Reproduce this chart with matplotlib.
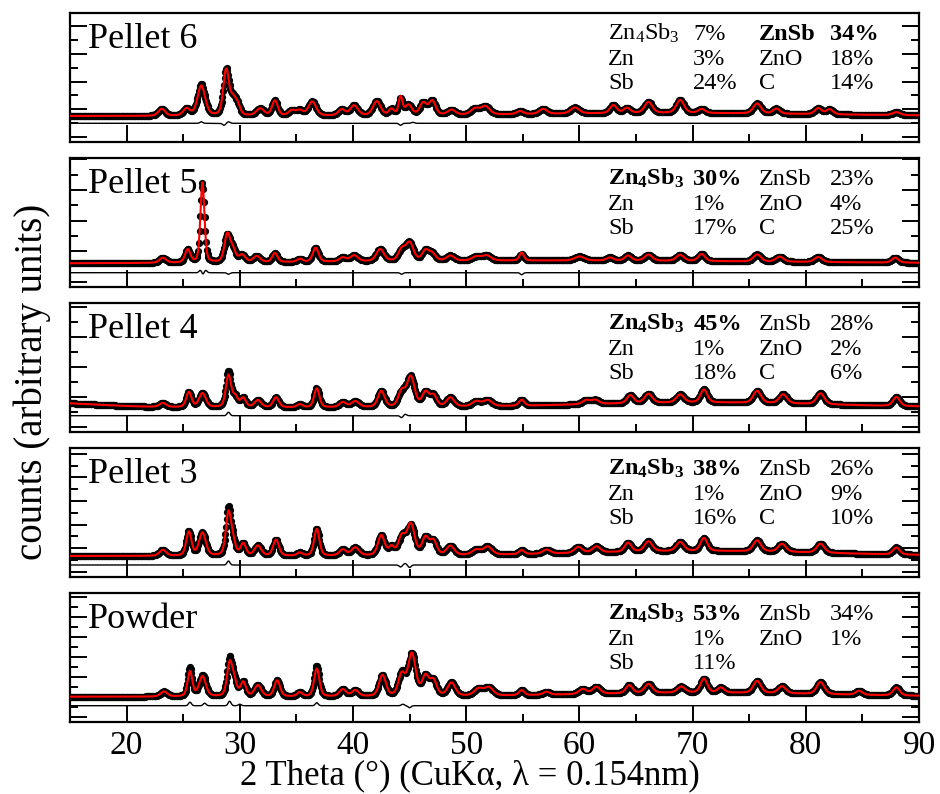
import numpy as np
import matplotlib
matplotlib.use("Agg")
import matplotlib.pyplot as plt
from matplotlib.ticker import MultipleLocator

plt.rcParams['font.family'] = ['Liberation Serif', 'DejaVu Serif']
plt.rcParams['mathtext.fontset'] = 'custom'
plt.rcParams['mathtext.rm'] = 'Liberation Serif'
plt.rcParams['mathtext.bf'] = 'Liberation Serif:bold'

# measurement range and step (degrees 2 theta)
two_theta_min, two_theta_max, two_theta_step = 15.0, 90.0, 0.065

panel_names = ['Pellet 6', 'Pellet 5', 'Pellet 4', 'Pellet 3', 'Powder']

# phase fractions (%) in order Zn4Sb3, ZnSb, Zn, ZnO, Sb, C ; None = not present
phase_labels = ['Zn4Sb3', 'ZnSb', 'Zn', 'ZnO', 'Sb', 'C']
pellet6_phases = [7, 34, 3, 18, 24, 14]
pellet5_phases = [30, 23, 1, 4, 17, 25]
pellet4_phases = [45, 28, 1, 2, 18, 6]
pellet3_phases = [38, 26, 1, 9, 16, 10]
powder_phases = [53, 34, 1, 1, 11, None]
bold_phase = ['ZnSb', 'Zn4Sb3', 'Zn4Sb3', 'Zn4Sb3', 'Zn4Sb3']

# fitted peaks: position (deg), height, FWHM (deg)
pellet6_pos = [23.1, 25.3, 26.6, 28.8, 29.4, 29.8, 31.8, 33.1, 34.6, 35.3, 36.4, 39.0, 40.1,
               42.1, 43.4, 44.2, 44.9, 46.2, 47.0, 48.7, 50.8, 51.7, 54.75, 56.8, 59.6, 63.0,
               64.2, 66.1, 68.9, 70.8, 75.7, 77.4, 81.1, 82.1, 88.0]
pellet6_height = [7, 7, 30, 46, 14, 10, 7, 15, 5, 5, 14, 6, 10,
                  14, 6, 18, 10, 12, 14, 5, 6, 8, 3, 5, 6, 8,
                  5, 11, 13, 4, 10, 5, 6, 5, 3]
pellet6_width = [0.7, 0.7, 0.8, 0.6, 0.55, 0.55, 0.8, 0.6, 0.7, 0.7, 0.8, 0.7, 0.8,
                 0.8, 0.55, 0.4, 0.7, 0.7, 0.7, 0.8, 0.9, 0.9, 0.7, 0.8, 0.9, 0.7,
                 0.7, 0.8, 0.8, 0.7, 0.8, 0.7, 0.7, 0.7, 0.8]

pellet5_pos = [23.2, 25.4, 26.7, 28.9, 29.4, 30.2, 31.5, 33.1, 35.3, 36.7, 39.1, 40.1,
               42.4, 44.3, 45.0, 46.4, 47.0, 48.6, 50.9, 51.8, 54.9, 60.0, 62.7, 64.3,
               66.1, 68.9, 70.8, 75.7, 77.7, 81.1, 87.9]
pellet5_height = [5, 13, 80, 28, 11, 7, 6, 9, 3, 14, 4, 6,
                  12, 11, 18, 10, 7, 5, 4, 5, 8, 4, 3, 5,
                  6, 6, 7, 7, 5, 5, 5]
pellet5_width = [0.7, 0.55, 0.42, 0.6, 0.55, 0.7, 0.7, 0.55, 0.55, 0.6, 0.7, 0.8,
                 0.8, 0.7, 0.8, 0.7, 0.7, 0.8, 0.9, 0.9, 0.45, 1.0, 0.7, 0.7,
                 0.8, 0.8, 0.7, 0.8, 0.8, 0.8, 0.7]

pellet4_pos = [23.2, 25.5, 26.7, 29.0, 29.6, 30.3, 31.6, 33.2, 35.3, 36.8, 39.1, 40.2,
               42.5, 44.3, 45.1, 46.4, 47.1, 48.6, 50.9, 51.9, 54.9, 60.6, 61.4, 64.5,
               66.1, 68.9, 71.0, 75.7, 78.0, 81.3, 88.0]
pellet4_height = [4, 15, 14, 32, 10, 9, 7, 10, 3, 19, 5, 6,
                  16, 15, 30, 14, 11, 9, 5, 6, 6, 4, 4, 8,
                  9, 8, 13, 12, 9, 11, 9]
pellet4_width = [0.7, 0.55, 0.7, 0.55, 0.55, 0.55, 0.7, 0.6, 0.55, 0.55, 0.7, 0.8,
                 0.7, 0.7, 0.8, 0.7, 0.7, 0.8, 0.9, 0.9, 0.55, 0.8, 0.8, 0.7,
                 0.8, 0.8, 0.7, 0.8, 0.8, 0.8, 0.7]

pellet3_pos = [23.2, 25.5, 26.7, 29.0, 29.4, 30.3, 31.6, 33.2, 35.3, 36.8, 39.1, 40.2,
               42.5, 43.4, 44.3, 45.1, 46.4, 47.1, 48.6, 50.9, 51.9, 54.9, 57.1, 59.9,
               61.5, 64.3, 66.1, 68.9, 71.0, 75.7, 77.9, 81.3, 88.0]
pellet3_height = [6, 24, 23, 42, 12, 12, 10, 16, 3, 27, 6, 8,
                  20, 8, 18, 31, 17, 14, 9, 5, 8, 4, 4, 6,
                  6, 9, 10, 9, 13, 11, 8, 9, 7]
pellet3_width = [0.7, 0.55, 0.7, 0.55, 0.55, 0.55, 0.7, 0.6, 0.55, 0.55, 0.7, 0.8,
                 0.7, 0.55, 0.7, 0.8, 0.7, 0.7, 0.8, 0.9, 0.9, 0.55, 0.8, 0.8,
                 0.8, 0.7, 0.8, 0.8, 0.7, 0.8, 0.8, 0.8, 0.7]

powder_pos = [23.3, 25.6, 26.7, 29.1, 29.5, 30.3, 31.6, 33.3, 35.3, 36.8, 39.1, 40.2,
              42.6, 44.3, 45.2, 46.4, 47.1, 48.7, 51.1, 52.0, 54.9, 57.1, 60.3, 61.5,
              64.4, 66.1, 69.0, 71.0, 72.5, 75.7, 77.9, 81.3, 84.7, 88.0]
powder_height = [5, 25, 20, 32, 14, 14, 11, 16, 4, 28, 7, 6,
                 21, 21, 42, 19, 15, 13, 7, 8, 5, 3, 5, 7,
                 8, 9, 6, 14, 5, 12, 7, 12, 4, 8]
powder_width = [0.7, 0.5, 0.7, 0.55, 0.55, 0.55, 0.7, 0.6, 0.55, 0.55, 0.7, 0.7,
                0.7, 0.7, 0.8, 0.7, 0.7, 0.8, 0.9, 0.9, 0.55, 0.7, 0.8, 0.8,
                0.7, 0.8, 0.8, 0.7, 0.7, 0.8, 0.8, 0.8, 0.7, 0.7]

# flat background level and broad amorphous humps: position, height, FWHM
panel_background = [26.0, 23.5, 24.5, 21.0, 25.3]
hump_pos = [[68.0], [58.0], [12.0, 71.0], [71.0], [71.0]]
hump_height = [[3.0], [3.0], [5.0, 5.0], [5.0], [4.0]]
hump_width = [[30.0], [45.0], [12.0, 26.0], [26.0], [26.0]]

# difference curve: offset level and residual features (position, amplitude, FWHM)
diff_level = [18.7, 14.3, 16.3, 12.0, 16.3]
resid_pos = [[26.6, 28.6, 29.0, 44.2, 45.3],
             [26.55, 26.75, 26.95, 29.0, 44.3, 54.9],
             [29.0, 44.3, 44.6],
             [29.0, 44.2, 44.6, 45.0],
             [25.6, 26.9, 29.1, 30.0, 36.8, 44.4, 45.0]]
resid_amp = [[1.5, -2.0, 1.5, -2.0, 1.0],
             [3.0, -3.0, 3.0, -1.5, -1.5, -2.0],
             [3.5, -2.0, 1.5],
             [4.0, -2.0, 1.5, -2.5],
             [3.5, 2.5, 4.5, 1.5, 3.0, 1.5, -2.0]]
resid_width = 0.3

# y tick spacing per panel (arbitrary units) and first tick
ytick_step = [13.8, 15.3, 15.0, 11.8, 10.0]
ytick_first = 5.3
panel_top_px = [13, 158, 303, 448, 593]


def pseudo_voigt(x, x0, h, w, eta=0.35):
    dx = (x - x0) / (w / 2.0)
    return h * (eta / (1.0 + dx ** 2) + (1 - eta) * np.exp(-np.log(2) * dx ** 2))


def gauss(x, x0, h, w):
    return h * np.exp(-4 * np.log(2) * (x - x0) ** 2 / w ** 2)


peak_sets = [
    (pellet6_pos, pellet6_height, pellet6_width),
    (pellet5_pos, pellet5_height, pellet5_width),
    (pellet4_pos, pellet4_height, pellet4_width),
    (pellet3_pos, pellet3_height, pellet3_width),
    (powder_pos, powder_height, powder_width),
]
phase_sets = [pellet6_phases, pellet5_phases, pellet4_phases, pellet3_phases, powder_phases]

two_theta = np.arange(two_theta_min, two_theta_max + two_theta_step / 2, two_theta_step)

W, H = 940, 794
fig = plt.figure(figsize=(W / 100, H / 100), dpi=100)
ax_left, ax_width, ax_height = 70 / W, 849 / W, 129 / H

col_x = [0.634, 0.734, 0.8115, 0.895]
row_y = [0.79, 0.60, 0.41]

axes = []
for i, name in enumerate(panel_names):
    bottom = 1 - (panel_top_px[i] + 129) / H
    ax = fig.add_axes([ax_left, bottom, ax_width, ax_height])
    axes.append(ax)

    pos, height, width = peak_sets[i]
    calc = np.full_like(two_theta, panel_background[i])
    for p, hgt, wd in zip(hump_pos[i], hump_height[i], hump_width[i]):
        calc += gauss(two_theta, p, hgt, wd)
    for p, hgt, wd in zip(pos, height, width):
        calc += pseudo_voigt(two_theta, p, hgt, wd)

    resid = np.zeros_like(two_theta)
    for p, a in zip(resid_pos[i], resid_amp[i]):
        resid += gauss(two_theta, p, a, resid_width)
    obs = calc + resid

    ax.plot(two_theta, obs, 'o', color='black', markersize=5.2, markeredgewidth=0, zorder=2)
    ax.plot(two_theta, calc, '-', color='red', lw=1.5, zorder=3)
    ax.plot(two_theta, diff_level[i] + resid, '-', color='black', lw=1.0, zorder=2)

    ax.set_xlim(two_theta_min, two_theta_max)
    ax.set_ylim(0, 129)

    ax.xaxis.set_major_locator(MultipleLocator(10))
    ax.xaxis.set_minor_locator(MultipleLocator(5))
    ax.yaxis.set_major_locator(MultipleLocator(2 * ytick_step[i], offset=ytick_first))
    ax.yaxis.set_minor_locator(MultipleLocator(ytick_step[i], offset=ytick_first))
    ax.tick_params(which='both', direction='in', left=True, right=True, top=False,
                   labelleft=False, width=1.4)
    ax.tick_params(which='major', length=12)
    ax.tick_params(which='minor', length=5.5)
    ax.tick_params(axis='x', labelsize=24, pad=6, labelbottom=(i == len(panel_names) - 1))
    for sp in ax.spines.values():
        sp.set_linewidth(1.6)

    ax.text(0.0212, 0.731, name, transform=ax.transAxes, fontsize=26, ha='left', va='baseline')

    vals = phase_sets[i]
    for k, (lab, v) in enumerate(zip(phase_labels, vals)):
        if v is None:
            continue
        row, col = k // 2, k % 2
        is_bold = (lab == bold_phase[i])
        if lab == 'Zn4Sb3':
            txt = r'$\mathbf{Zn_4Sb_3}$' if is_bold else r'$\mathrm{Zn_4Sb_3}$'
        else:
            txt = lab
        weight = 'bold' if is_bold else 'normal'
        ax.text(col_x[2 * col], row_y[row], txt, transform=ax.transAxes, fontsize=17.5,
                fontweight=weight, ha='left', va='baseline')
        ax.text(col_x[2 * col + 1], row_y[row], f'{v}%', transform=ax.transAxes, fontsize=17.5,
                fontweight=weight, ha='left', va='baseline')

fig.text(470 / W, 1 - 784 / H, '2 Theta (°) (CuKα, λ = 0.154nm)', fontsize=25,
         ha='center', va='baseline')
fig.text(32 / W, 1 - 382 / H, 'counts (arbitrary units)', rotation=90, fontsize=28,
         ha='center', va='center')

fig.savefig('out.png', dpi=100)
